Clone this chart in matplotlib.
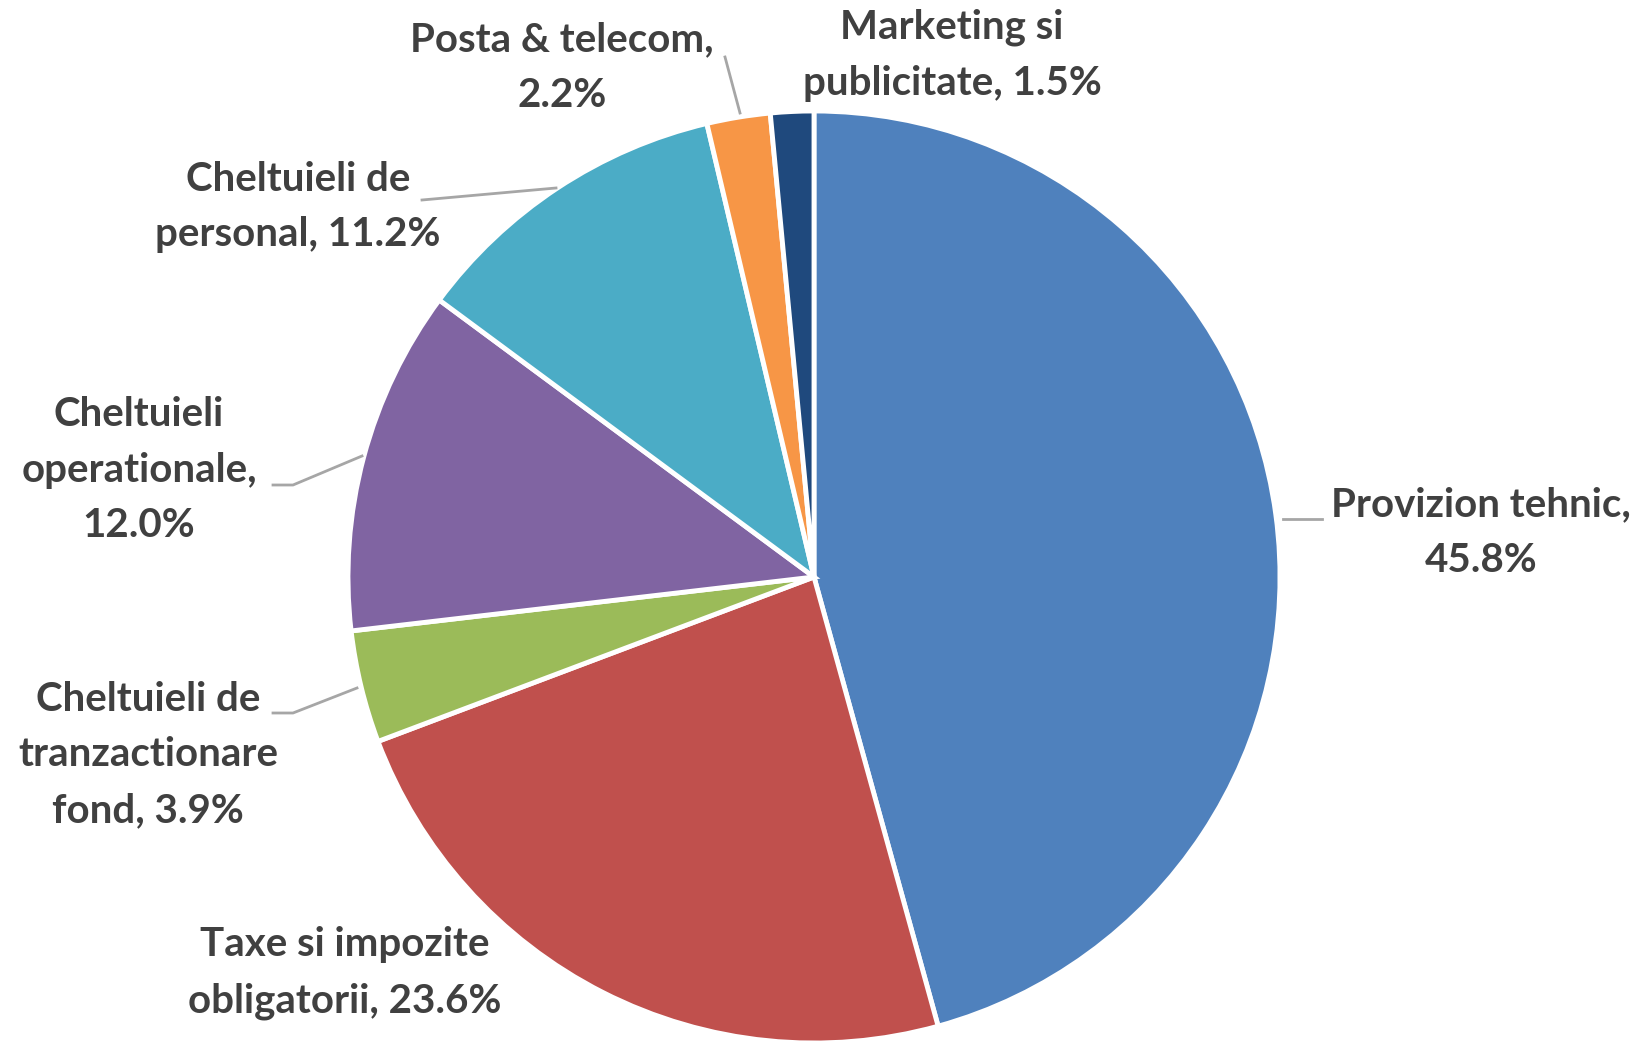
import matplotlib
matplotlib.use("Agg")
import matplotlib.pyplot as plt

# date
categorii = ["Provizion tehnic", "Taxe si impozite\nobligatorii", "Cheltuieli de\ntranzactionare\nfond",
             "Cheltuieli\noperationale", "Cheltuieli de\npersonal", "Posta & telecom", "Marketing si\npublicitate"]
separatori = [",\n", ", ", ", ", ",\n", ", ", ",\n", ", "]
valori = [45.8, 23.6, 3.9, 12.0, 11.2, 2.2, 1.5]
culori = ["#4F81BD", "#C0504D", "#9BBB59", "#8064A2", "#4BACC6", "#F79646", "#1F497D"]

# pozitii etichete (pixeli, y de jos)
pozitii = [(1481, 511), (345, 71), (148, 289), (139, 574), (298, 837), (562, 976), (952, 989)]
linii = [
    [(1283, 525), (1322, 525)],
    None,
    [(273, 331), (293, 331), (357, 356)],
    [(273, 559), (293, 559), (362, 588)],
    [(422, 844), (556, 856)],
    [(725, 987), (740, 931)],
    None,
]

fig = plt.figure(figsize=(16.4, 10.44), dpi=100)
ax = fig.add_axes([0, 0, 1, 1])

ax.pie(valori, colors=culori, startangle=90, counterclock=False,
       center=(814, 467), radius=466,
       wedgeprops=dict(edgecolor="white", linewidth=3.5))

ax.set_xlim(0, 1640)
ax.set_ylim(0, 1044)
ax.set_aspect("equal")
ax.axis("off")

for nume, sep, v, (x, y), ln in zip(categorii, separatori, valori, pozitii, linii):
    ax.text(x, y, f"{nume}{sep}{v:.1f}%", ha="center", va="center",
            fontsize=29, fontweight="bold", family="Lato", color="#404040",
            linespacing=1.62)
    if ln:
        xs, ys = zip(*ln)
        ax.plot(xs, ys, color="#A6A6A6", lw=2)

fig.savefig("out.png", dpi=100, facecolor="white")
